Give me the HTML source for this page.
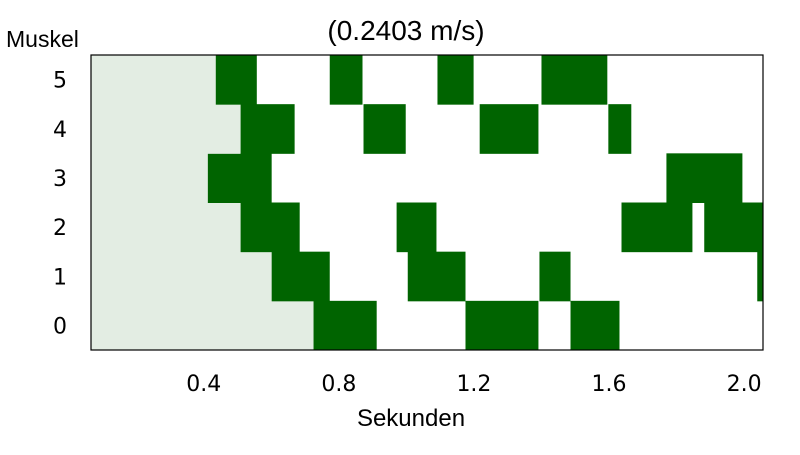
<!DOCTYPE html>
<html><head><meta charset="utf-8"><style>
body{margin:0;background:#fff;width:800px;height:450px;overflow:hidden}
text{font-family:"Liberation Sans",sans-serif;fill:#000}
.tk{font-family:"DejaVu Sans",sans-serif}
</style></head><body>
<svg id="c" width="800" height="450">
<text x="406" y="40" font-size="28" text-anchor="middle">(0.2403 m/s)</text>
<text x="6" y="47" font-size="23">Muskel</text>
<text x="411" y="426" font-size="24" text-anchor="middle">Sekunden</text>
<g id="marks"></g>
<rect x="91" y="55" width="672" height="295" fill="none" stroke="#000" stroke-width="1.2"/>
<g id="ticks"></g>
</svg>
<script>
const muscles=[0,1,2,3,4,5];
const xTicks=[0.4,0.8,1.2,1.6,2.0];
const xTickLabels=["0.4","0.8","1.2","1.6","2.0"];
const row0=[[0.725,0.912],[1.175,1.391],[1.486,1.631]];
const row1=[[0.601,0.773],[1.004,1.175],[1.394,1.486],[2.039,2.056]];
const row2=[[0.509,0.684],[0.971,1.089],[1.637,1.847],[1.882,2.056]];
const row3=[[0.412,0.601],[1.770,1.995]];
const row4=[[0.509,0.669],[0.873,0.998],[1.217,1.391],[1.598,1.666]];
const row5=[[0.4355,0.557],[0.773,0.870],[1.092,1.199],[1.400,1.595]];
const rows=[row0,row1,row2,row3,row4,row5];
const xMin=0.066,xMax=2.056;
const X0=91,X1=763,Y0=55,Y1=350;
function x(t){return X0+(t-xMin)/(xMax-xMin)*(X1-X0);}
const rh=(Y1-Y0)/muscles.length;
function yTop(m){return Y1-(m+1)*rh;}
const NS="http://www.w3.org/2000/svg";
const g=document.getElementById('marks'),tg=document.getElementById('ticks');
rows.forEach((segs,m)=>{
  const gr=document.createElementNS(NS,'rect');
  gr.setAttribute('x',X0);gr.setAttribute('y',yTop(m));
  gr.setAttribute('width',x(segs[0][0])-X0);gr.setAttribute('height',rh+0.5);
  gr.setAttribute('fill','#e3ede3');
  
  
  g.appendChild(gr);
  segs.forEach((s,i)=>{
    const r=document.createElementNS(NS,'rect');
    r.setAttribute('x',x(s[0]));r.setAttribute('y',yTop(m));
    r.setAttribute('width',x(s[1])-x(s[0]));r.setAttribute('height',rh+0.5);
    r.setAttribute('fill','#006400');
    
    
    g.appendChild(r);
  });
  const t=document.createElementNS(NS,'text');
  t.setAttribute('x',60);t.setAttribute('y',yTop(m)+rh/2+8);
  t.setAttribute('font-size','22');t.setAttribute('text-anchor','middle');
  t.setAttribute('class','tk');
  t.textContent=String(muscles[m]);
  
  
  tg.appendChild(t);
});
xTicks.forEach((v,i)=>{
  const t=document.createElementNS(NS,'text');
  t.setAttribute('x',x(v));t.setAttribute('y',391);
  t.setAttribute('font-size','22');t.setAttribute('text-anchor','middle');
  t.setAttribute('class','tk');
  t.textContent=xTickLabels[i];
  
  
  tg.appendChild(t);
});
</script>
</body></html>
